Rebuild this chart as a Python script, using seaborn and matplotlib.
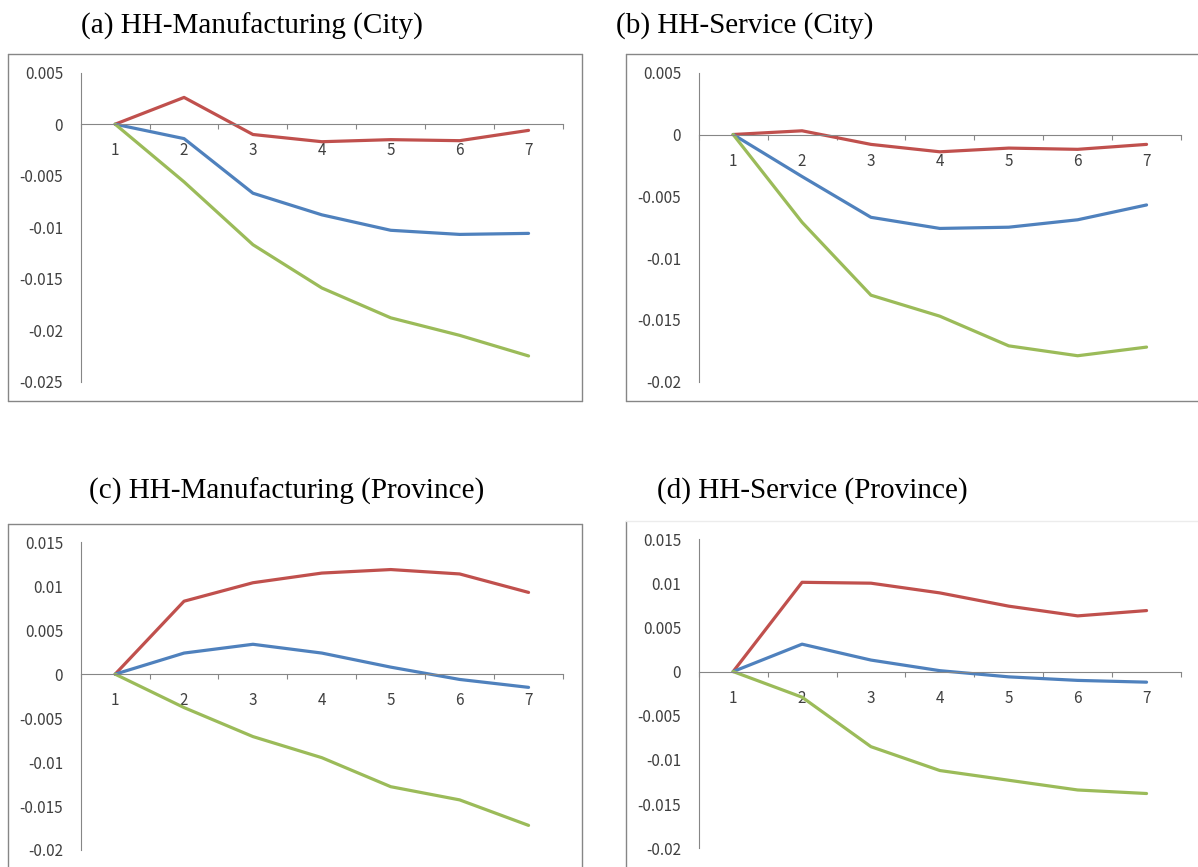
import numpy as np
import pandas as pd
import matplotlib
matplotlib.use("Agg")
import matplotlib.pyplot as plt
from matplotlib.ticker import FixedLocator, FuncFormatter, MultipleLocator
from matplotlib.lines import Line2D
import seaborn as sns

# ---- data -------------------------------------------------------------
periods = [1, 2, 3, 4, 5, 6, 7]

a_red = [0, 0.0026, -0.0010, -0.0017, -0.0015, -0.0016, -0.0006]
a_blue = [0, -0.0014, -0.0067, -0.0088, -0.0103, -0.0107, -0.0106]
a_green = [0, -0.0056, -0.0117, -0.0159, -0.0188, -0.0205, -0.0225]

b_red = [0, 0.0003, -0.0008, -0.0014, -0.0011, -0.0012, -0.0008]
b_blue = [0, -0.0034, -0.0067, -0.0076, -0.0075, -0.0069, -0.0057]
b_green = [0, -0.0071, -0.0130, -0.0147, -0.0171, -0.0179, -0.0172]

c_red = [0, 0.0083, 0.0104, 0.0115, 0.0119, 0.0114, 0.0093]
c_blue = [0, 0.0024, 0.0034, 0.0024, 0.0008, -0.0006, -0.0015]
c_green = [0, -0.0038, -0.0071, -0.0095, -0.0128, -0.0143, -0.0172]

d_red = [0, 0.0101, 0.0100, 0.0089, 0.0074, 0.0063, 0.0069]
d_blue = [0, 0.0031, 0.0013, 0.0001, -0.0006, -0.0010, -0.0012]
d_green = [0, -0.0029, -0.0085, -0.0112, -0.0123, -0.0134, -0.0138]

titles = [
    "(a) HH-Manufacturing (City)",
    "(b) HH-Service (City)",
    "(c) HH-Manufacturing (Province)",
    "(d) HH-Service (Province)",
]
y_limits = [(-0.025, 0.005), (-0.02, 0.005), (-0.02, 0.015), (-0.02, 0.015)]
y_step = 0.005

series_colors = {"red": "#C0504D", "blue": "#4F81BD", "green": "#9BBB59"}

panels = [
    {"red": a_red, "blue": a_blue, "green": a_green},
    {"red": b_red, "blue": b_blue, "green": b_green},
    {"red": c_red, "blue": c_blue, "green": c_green},
    {"red": d_red, "blue": d_blue, "green": d_green},
]

# ---- style ------------------------------------------------------------
sns.set_style("white")
plt.rcParams["font.family"] = ["Noto Sans CJK KR", "DejaVu Sans"]

W, H = 1198, 867
fig = plt.figure(figsize=(W / 100, H / 100), dpi=100)

AXIS_GRAY = "#868686"
LABEL_COLOR = "#404040"


def fig_rect(x0, x1, y_top, y_bottom):
    return [x0 / W, 1 - y_bottom / H, (x1 - x0) / W, (y_bottom - y_top) / H]


def hline(x0, x1, y, color=AXIS_GRAY, lw=1.0):
    fig.add_artist(Line2D([x0 / W, x1 / W], [1 - y / H, 1 - y / H],
                          transform=fig.transFigure, color=color, lw=lw))


def vline(x, y0, y1, color=AXIS_GRAY, lw=1.0):
    fig.add_artist(Line2D([x / W, x / W], [1 - y0 / H, 1 - y1 / H],
                          transform=fig.transFigure, color=color, lw=lw))


# plot-area placement (pixels) for each panel: x-left, x-right, y-top, y-bottom
plot_boxes = [
    (80.7, 563, 72.7, 381.7),
    (698.7, 1181, 72.7, 381.7),
    (80.7, 563, 542.3, 850),
    (698.7, 1181, 539, 848.3),
]
title_pos = [(252, 26), (745, 26), (287, 491), (812, 491)]

# chart frames
hline(8.4, 581.7, 54); hline(8.4, 581.7, 401)
vline(8.4, 54, 401); vline(581.7, 54, 401)
hline(625.6, 1198, 54); hline(625.6, 1198, 401); vline(625.6, 54, 401)
hline(8.4, 581.7, 524.3); vline(8.4, 524.3, 867); vline(581.7, 524.3, 867)
vline(625.6, 521, 867); hline(625.6, 1198, 521, color="#ececec")


def fmt(v, _pos):
    if abs(v) < 1e-12:
        return "0"
    return f"{round(v, 4):g}"


for idx, (series, box, ylim) in enumerate(zip(panels, plot_boxes, y_limits)):
    ax = fig.add_axes(fig_rect(*box))
    ax.set_facecolor("none")

    df = pd.DataFrame({
        "period": periods * len(series),
        "value": [v for vals in series.values() for v in vals],
        "series": [k for k, vals in series.items() for _ in vals],
    })
    sns.lineplot(data=df, x="period", y="value", hue="series",
                 palette=series_colors, linewidth=2.3, legend=False,
                 ax=ax, clip_on=False)

    ax.set_xlim(0.5, 7.5)
    ax.set_ylim(*ylim)
    ax.set_xlabel("")
    ax.set_ylabel("")

    for side in ("top", "right"):
        ax.spines[side].set_visible(False)
    ax.spines["left"].set_color(AXIS_GRAY)
    ax.spines["left"].set_linewidth(0.8)
    ax.spines["bottom"].set_position(("data", 0))
    ax.spines["bottom"].set_color(AXIS_GRAY)
    ax.spines["bottom"].set_linewidth(0.8)

    # y axis
    ax.yaxis.set_major_locator(MultipleLocator(y_step))
    ax.yaxis.set_major_formatter(FuncFormatter(fmt))
    ax.tick_params(axis="y", which="major", direction="out", length=3.6,
                   width=0.8, color=AXIS_GRAY, pad=9, labelsize=11,
                   labelcolor=LABEL_COLOR)

    # x axis: tick marks between categories, labels at category centres
    ax.xaxis.set_major_locator(FixedLocator(np.arange(0.5, 8.0, 1.0)))
    ax.xaxis.set_major_formatter(FuncFormatter(lambda v, p: ""))
    ax.xaxis.set_minor_locator(FixedLocator(periods))
    ax.xaxis.set_minor_formatter(FuncFormatter(lambda v, p: f"{int(round(v))}"))
    ax.tick_params(axis="x", which="major", direction="out", length=3.6,
                   width=0.8, color=AXIS_GRAY, bottom=True)
    ax.tick_params(axis="x", which="minor", length=0, pad=13, labelsize=11,
                   labelcolor=LABEL_COLOR, bottom=True)

    tx, ty = title_pos[idx]
    fig.text(tx / W, 1 - ty / H, titles[idx], ha="center", va="center",
             fontsize=21, family=["Liberation Serif", "DejaVu Serif"],
             color="black")

fig.savefig("out.png", dpi=100, facecolor="white")
